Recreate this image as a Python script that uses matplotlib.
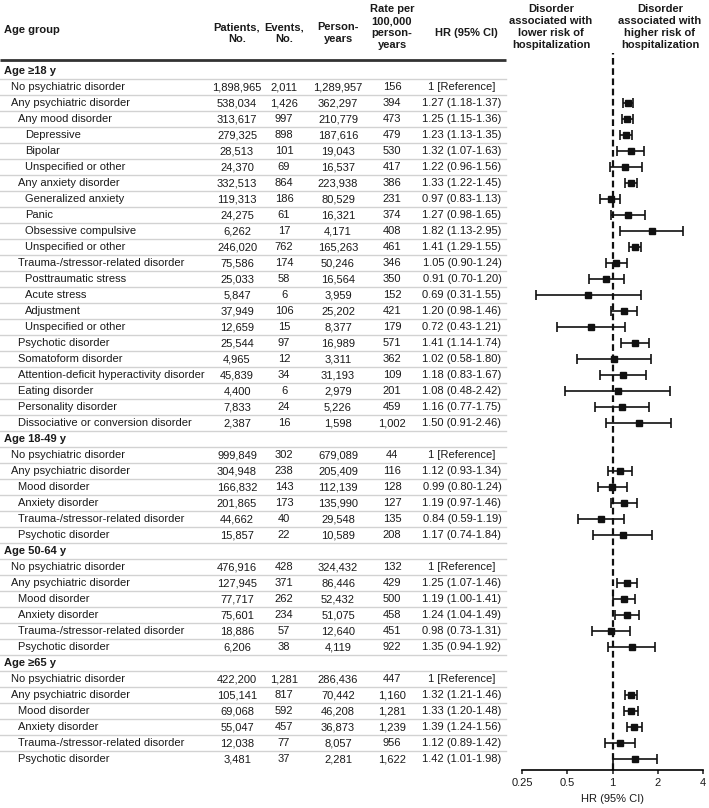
import matplotlib
matplotlib.use("Agg")
import matplotlib.pyplot as plt
from matplotlib.ticker import FixedLocator, FixedFormatter, NullLocator

plt.rcParams['font.family'] = ['Liberation Sans', 'DejaVu Sans']

# ---------------- data ----------------
row_labels = [
    "Age ≥18 y", "No psychiatric disorder", "Any psychiatric disorder", "Any mood disorder",
    "Depressive", "Bipolar", "Unspecified or other", "Any anxiety disorder",
    "Generalized anxiety", "Panic", "Obsessive compulsive", "Unspecified or other",
    "Trauma-/stressor-related disorder", "Posttraumatic stress", "Acute stress", "Adjustment",
    "Unspecified or other", "Psychotic disorder", "Somatoform disorder",
    "Attention-deficit hyperactivity disorder", "Eating disorder", "Personality disorder",
    "Dissociative or conversion disorder",
    "Age 18-49 y", "No psychiatric disorder", "Any psychiatric disorder", "Mood disorder",
    "Anxiety disorder", "Trauma-/stressor-related disorder", "Psychotic disorder",
    "Age 50-64 y", "No psychiatric disorder", "Any psychiatric disorder", "Mood disorder",
    "Anxiety disorder", "Trauma-/stressor-related disorder", "Psychotic disorder",
    "Age ≥65 y", "No psychiatric disorder", "Any psychiatric disorder", "Mood disorder",
    "Anxiety disorder", "Trauma-/stressor-related disorder", "Psychotic disorder",
]
row_levels = [0, 1, 1, 2, 3, 3, 3, 2, 3, 3, 3, 3, 2, 3, 3, 3, 3, 2, 2, 2, 2, 2, 2,
              0, 1, 1, 2, 2, 2, 2,
              0, 1, 1, 2, 2, 2, 2,
              0, 1, 1, 2, 2, 2, 2]
patients = ["", "1,898,965", "538,034", "313,617", "279,325", "28,513", "24,370", "332,513",
            "119,313", "24,275", "6,262", "246,020", "75,586", "25,033", "5,847", "37,949",
            "12,659", "25,544", "4,965", "45,839", "4,400", "7,833", "2,387",
            "", "999,849", "304,948", "166,832", "201,865", "44,662", "15,857",
            "", "476,916", "127,945", "77,717", "75,601", "18,886", "6,206",
            "", "422,200", "105,141", "69,068", "55,047", "12,038", "3,481"]
events = ["", "2,011", "1,426", "997", "898", "101", "69", "864", "186", "61", "17", "762",
          "174", "58", "6", "106", "15", "97", "12", "34", "6", "24", "16",
          "", "302", "238", "143", "173", "40", "22",
          "", "428", "371", "262", "234", "57", "38",
          "", "1,281", "817", "592", "457", "77", "37"]
person_years = ["", "1,289,957", "362,297", "210,779", "187,616", "19,043", "16,537", "223,938",
                "80,529", "16,321", "4,171", "165,263", "50,246", "16,564", "3,959", "25,202",
                "8,377", "16,989", "3,311", "31,193", "2,979", "5,226", "1,598",
                "", "679,089", "205,409", "112,139", "135,990", "29,548", "10,589",
                "", "324,432", "86,446", "52,432", "51,075", "12,640", "4,119",
                "", "286,436", "70,442", "46,208", "36,873", "8,057", "2,281"]
rates = ["", "156", "394", "473", "479", "530", "417", "386", "231", "374", "408", "461",
         "346", "350", "152", "421", "179", "571", "362", "109", "201", "459", "1,002",
         "", "44", "116", "128", "127", "135", "208",
         "", "132", "429", "500", "458", "451", "922",
         "", "447", "1,160", "1,281", "1,239", "956", "1,622"]
# None = section header, "ref" = reference row
hr = [None, "ref", 1.27, 1.25, 1.23, 1.32, 1.22, 1.33, 0.97, 1.27, 1.82, 1.41, 1.05, 0.91,
      0.69, 1.20, 0.72, 1.41, 1.02, 1.18, 1.08, 1.16, 1.50,
      None, "ref", 1.12, 0.99, 1.19, 0.84, 1.17,
      None, "ref", 1.25, 1.19, 1.24, 0.98, 1.35,
      None, "ref", 1.32, 1.33, 1.39, 1.12, 1.42]
hr_lo = [None, None, 1.18, 1.15, 1.13, 1.07, 0.96, 1.22, 0.83, 0.98, 1.13, 1.29, 0.90, 0.70,
         0.31, 0.98, 0.43, 1.14, 0.58, 0.83, 0.48, 0.77, 0.91,
         None, None, 0.93, 0.80, 0.97, 0.59, 0.74,
         None, None, 1.07, 1.00, 1.04, 0.73, 0.94,
         None, None, 1.21, 1.20, 1.24, 0.89, 1.01]
hr_hi = [None, None, 1.37, 1.36, 1.35, 1.63, 1.56, 1.45, 1.13, 1.65, 2.95, 1.55, 1.24, 1.20,
         1.55, 1.46, 1.21, 1.74, 1.80, 1.67, 2.42, 1.75, 2.46,
         None, None, 1.34, 1.24, 1.46, 1.19, 1.84,
         None, None, 1.46, 1.41, 1.49, 1.31, 1.92,
         None, None, 1.46, 1.48, 1.56, 1.42, 1.98]

x_ticks = [0.25, 0.5, 1, 2, 4]
x_tick_labels = ["0.25", "0.5", "1", "2", "4"]

# ---------------- layout ----------------
W, H = 709, 808
fig = plt.figure(figsize=(W / 100, H / 100), dpi=100)

ROW0, STEP = 71, 16.0          # pixel y of first row, row height
def ry(i):                       # row index -> pixel y
    return ROW0 + STEP * i

ax = fig.add_axes([0, 0, 1, 1])
ax.set_xlim(0, W)
ax.set_ylim(H, 0)
ax.axis("off")

FS = 8
TXT = "#1a1a1a"
indent = {0: 4, 1: 11, 2: 18, 3: 25}
X_PAT, X_EVT, X_PY, X_RATE, X_HR = 237, 284, 338, 392, 462
TABLE_RIGHT = 506

# headers
hdr = dict(fontsize=FS, fontweight="bold", color=TXT, va="center", linespacing=1.25)
ax.text(4, 30, "Age group", ha="left", **hdr)
ax.text(X_PAT, 33, "Patients,\nNo.", ha="center", **hdr)
ax.text(X_EVT, 33, "Events,\nNo.", ha="center", **hdr)
ax.text(X_PY, 33, "Person-\nyears", ha="center", **hdr)
ax.text(X_RATE, 27, "Rate per\n100,000\nperson-\nyears", ha="center", **hdr)
ax.text(X_HR + 4, 33, "HR (95% CI)", ha="center", **hdr)
ax.text(551, 27, "Disorder\nassociated with\nlower risk of\nhospitalization", ha="center", **hdr)
ax.text(660, 27, "Disorder\nassociated with\nhigher risk of\nhospitalization", ha="center", **hdr)

ax.plot([0, TABLE_RIGHT], [60, 60], color="#333333", lw=2.0, solid_capstyle="butt")

n = len(row_labels)
for i in range(n):
    y = ry(i)
    lvl = row_levels[i]
    if lvl == 0:
        ax.text(indent[0], y, row_labels[i], ha="left", va="center", fontsize=FS,
                fontweight="bold", color=TXT)
    else:
        ax.text(indent[lvl], y, row_labels[i], ha="left", va="center", fontsize=FS, color=TXT)
        ax.text(X_PAT, y, patients[i], ha="center", va="center", fontsize=FS, color=TXT)
        ax.text(X_EVT, y, events[i], ha="center", va="center", fontsize=FS, color=TXT)
        ax.text(X_PY, y, person_years[i], ha="center", va="center", fontsize=FS, color=TXT)
        ax.text(X_RATE, y, rates[i], ha="center", va="center", fontsize=FS, color=TXT)
        if hr[i] == "ref":
            s = "1 [Reference]"
        else:
            s = f"{hr[i]:.2f} ({hr_lo[i]:.2f}-{hr_hi[i]:.2f})"
        ax.text(X_HR, y, s, ha="center", va="center", fontsize=FS, color=TXT)
    if i < n - 1:
        ax.plot([0, TABLE_RIGHT], [y + STEP / 2, y + STEP / 2], color="#d2d2d2", lw=1.0)

# ---------------- forest plot ----------------
FX0, FX1 = 522, 703
FY_TOP, FY_BOT = 53, 770
fax = fig.add_axes([FX0 / W, 1 - FY_BOT / H, (FX1 - FX0) / W, (FY_BOT - FY_TOP) / H])
fax.set_xscale("log", base=2)
fax.set_xlim(0.25, 4)
fax.set_ylim((FY_BOT - ROW0) / STEP, (FY_TOP - ROW0) / STEP)
fax.patch.set_alpha(0)
for sp in ["top", "right", "left"]:
    fax.spines[sp].set_visible(False)
fax.spines["bottom"].set_linewidth(1.2)
fax.yaxis.set_major_locator(NullLocator())
fax.xaxis.set_major_locator(FixedLocator(x_ticks))
fax.xaxis.set_major_formatter(FixedFormatter(x_tick_labels))
fax.xaxis.set_minor_locator(NullLocator())
fax.tick_params(axis="x", direction="out", length=3, width=1.1, labelsize=FS, pad=3,
                colors=TXT)
fax.set_xlabel("HR (95% CI)", fontsize=FS, color=TXT, labelpad=4)

fax.axvline(1, color="#111111", lw=1.6, linestyle=(0, (3, 1.6)))

for i in range(n):
    if isinstance(hr[i], float):
        fax.errorbar([hr[i]], [i], xerr=[[hr[i] - hr_lo[i]], [hr_hi[i] - hr[i]]],
                     fmt="s", color="#111111", ms=4.5, elinewidth=1.2, capsize=3.5,
                     capthick=1.2, zorder=3)

fig.savefig("out.png", dpi=100)
